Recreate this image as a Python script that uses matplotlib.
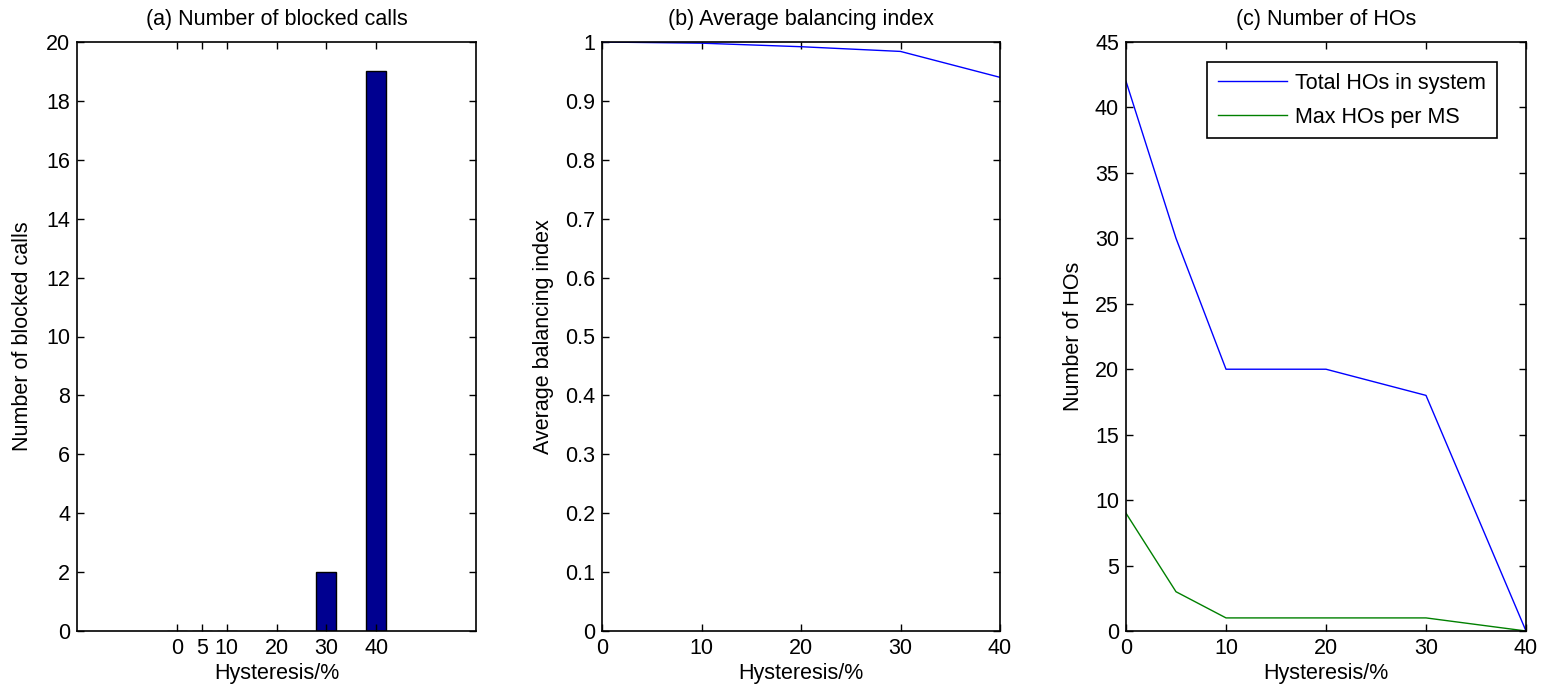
import matplotlib
matplotlib.use("Agg")
import matplotlib.pyplot as plt
import numpy as np

plt.rcParams['font.family'] = ['Liberation Sans', 'DejaVu Sans']

# Data
hyst = [0, 5, 10, 20, 30, 40]
blocked_calls = [0, 0, 0, 0, 2, 19]
balancing_index = [1.0, 0.999, 0.998, 0.992, 0.984, 0.940]
total_hos = [42, 30, 20, 20, 18, 0]
max_hos_per_ms = [9, 3, 1, 1, 1, 0]

W, H = 1541, 691
fig = plt.figure(figsize=(W / 100, H / 100), dpi=100)

def px_axes(x0, x1, y0, y1):
    return fig.add_axes([x0 / W, (H - y1) / H, (x1 - x0) / W, (y1 - y0) / H])

FS = 15.5
TPAD = 12

def style(ax):
    ax.tick_params(direction='in', top=True, right=True, length=5, width=1.0,
                   labelsize=FS, pad=5)
    for s in ax.spines.values():
        s.set_linewidth(1.2)

# (a)
ax1 = px_axes(77, 476, 42, 631)
ax1.bar(hyst, blocked_calls, width=4, color='#000090', edgecolor='black', linewidth=1.0)
ax1.set_xlim(-20, 60)
ax1.set_ylim(0, 20)
ax1.set_xticks(hyst)
ax1.set_yticks(np.arange(0, 21, 2))
ax1.set_title('(a) Number of blocked calls', fontsize=FS, pad=TPAD)
ax1.set_xlabel('Hysteresis/%', fontsize=FS, labelpad=3)
ax1.set_ylabel('Number of blocked calls', fontsize=FS, labelpad=9)
style(ax1)

# (b)
ax2 = px_axes(602, 1000, 42, 631)
ax2.plot(hyst, balancing_index, color='#0000ff', linewidth=1.0)
ax2.set_xlim(0, 40)
ax2.set_ylim(0, 1)
ax2.set_xticks([0, 10, 20, 30, 40])
yt = np.round(np.arange(0, 1.01, 0.1), 1)
ax2.set_yticks(yt)
ax2.set_yticklabels(['0'] + [f'{v:g}' for v in yt[1:-1]] + ['1'])
ax2.set_title('(b) Average balancing index', fontsize=FS, pad=TPAD)
ax2.set_xlabel('Hysteresis/%', fontsize=FS, labelpad=3)
ax2.set_ylabel('Average balancing index', fontsize=FS, labelpad=8)
style(ax2)

# (c)
ax3 = px_axes(1126, 1526, 42, 631)
ax3.plot(hyst, total_hos, color='#0000ff', linewidth=1.0, label='Total HOs in system')
ax3.plot(hyst, max_hos_per_ms, color='#008000', linewidth=1.0, label='Max HOs per MS')
ax3.set_xlim(0, 40)
ax3.set_ylim(0, 45)
ax3.set_xticks([0, 10, 20, 30, 40])
ax3.set_yticks(np.arange(0, 46, 5))
ax3.set_title('(c) Number of HOs', fontsize=FS, pad=TPAD)
ax3.set_xlabel('Hysteresis/%', fontsize=FS, labelpad=3)
ax3.set_ylabel('Number of HOs', fontsize=FS, labelpad=8)
leg = ax3.legend(loc='upper right', bbox_to_anchor=(0.9275, 0.966),
                 fontsize=FS, frameon=True, fancybox=False,
                 edgecolor='black', framealpha=1, handlelength=3.2,
                 borderaxespad=0.0, labelspacing=0.6, handletextpad=0.4,
                 borderpad=0.5)
leg.get_frame().set_linewidth(1.2)
style(ax3)

fig.savefig('out.png', dpi=100)
